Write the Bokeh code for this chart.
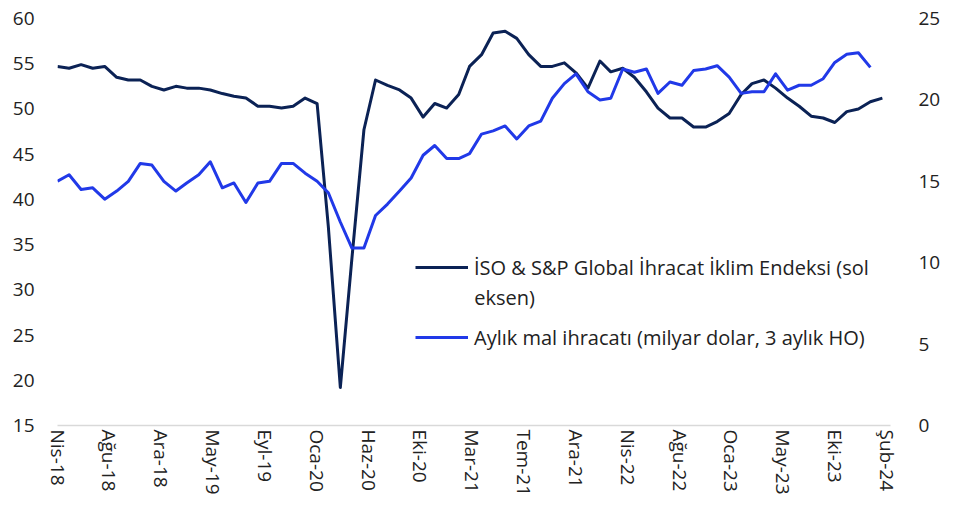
import pandas as pd
from bokeh.plotting import figure
from bokeh.models import (ColumnDataSource, Range1d, LinearAxis, FixedTicker,
                          Legend, LegendItem, Label)
from bokeh.embed import file_html
from bokeh.resources import INLINE

# ---------------- data ----------------
start_month = "2018-04-01"
n_months = 71

iso_index = [54.7, 54.5, 54.9, 54.5, 54.7, 53.5, 53.2, 53.2, 52.5, 52.1,
             52.5, 52.3, 52.3, 52.1, 51.7, 51.4, 51.2, 50.3, 50.3, 50.1,
             50.3, 51.2, 50.6, 37.0, 19.2, 33.5, 47.7, 53.2, 52.6, 52.1,
             51.2, 49.1, 50.6, 50.1, 51.6, 54.7, 56.0, 58.4, 58.6, 57.8,
             56.0, 54.7, 54.7, 55.1, 54.0, 52.3, 55.3, 54.1, 54.5, 53.5,
             51.9, 50.1, 49.0, 49.0, 48.0, 48.0, 48.6, 49.5, 51.6, 52.8,
             53.2, 52.3, 51.2, 50.3, 49.2, 49.0, 48.5, 49.7, 50.0, 50.8,
             51.2]

exports = [15.0, 15.4, 14.5, 14.6, 13.9, 14.4, 15.0, 16.1, 16.0, 15.0,
           14.4, 14.9, 15.4, 16.2, 14.6, 14.9, 13.7, 14.9, 15.0, 16.1,
           16.1, 15.5, 15.0, 14.3, 12.5, 10.9, 10.9, 12.9, 13.6, 14.4,
           15.2, 16.6, 17.2, 16.4, 16.4, 16.7, 17.9, 18.1, 18.4, 17.6,
           18.4, 18.7, 20.1, 21.0, 21.6, 20.5, 20.0, 20.1, 21.9, 21.7,
           21.9, 20.4, 21.1, 20.9, 21.8, 21.9, 22.1, 21.4, 20.4, 20.5,
           20.5, 21.6, 20.6, 20.9, 20.9, 21.3, 22.3, 22.8, 22.9, 22.0]

tick_labels = ["Nis-18", "Ağu-18", "Ara-18", "May-19", "Eyl-19", "Oca-20",
               "Haz-20", "Eki-20", "Mar-21", "Tem-21", "Ara-21", "Nis-22",
               "Ağu-22", "Oca-23", "May-23", "Eki-23", "Şub-24"]

label_iso = "İSO & S&P Global İhracat İklim Endeksi (sol"
label_iso_2 = "eksen)"
label_exp = "Aylık mal ihracatı (milyar dolar, 3 aylık HO)"

# ---------------- prep ----------------
dates = pd.date_range(start_month, periods=n_months, freq="MS")
days = [int(d) for d in (dates - dates[0]).days]

src_iso = ColumnDataSource(dict(x=days, y=iso_index))
src_exp = ColumnDataSource(dict(x=days[:len(exports)], y=exports))

FONT = "Open Sans"
TXT = "#222222"
DARK = "#0B2255"
BLUE = "#2139E8"
TICK_FS = "19px"
LEG_FS = "20px"

tick_step = 134
ticks = [k * tick_step for k in range(len(tick_labels))]

p = figure(width=948, height=509, output_backend="svg", toolbar_location=None,
           x_range=Range1d(0, 2153), y_range=Range1d(15, 60),
           min_border_left=57, min_border_right=58, min_border_top=18,
           min_border_bottom=84)
p.outline_line_color = None
p.grid.visible = False
p.background_fill_color = "white"
p.border_fill_color = "white"

p.extra_y_ranges = {"right": Range1d(0, 25)}

r1 = p.line("x", "y", source=src_iso, line_color=DARK, line_width=3,
            line_join="round")
r2 = p.line("x", "y", source=src_exp, line_color=BLUE, line_width=3,
            line_join="round", y_range_name="right")

# x axis
xa = p.xaxis[0]
xa.ticker = FixedTicker(ticks=ticks)
xa.major_label_overrides = {t: lab for t, lab in zip(ticks, tick_labels)}
xa.major_label_orientation = "vertical"
xa.axis_line_color = "#D9D9D9"
xa.axis_line_width = 1.5
xa.major_tick_line_color = None
xa.minor_tick_line_color = None
xa.major_tick_out = 0
xa.major_tick_in = 0
xa.major_label_standoff = 4
xa.major_label_text_font = FONT
xa.major_label_text_font_size = TICK_FS
xa.major_label_text_color = TXT

# left axis
ya = p.yaxis[0]
ya.ticker = FixedTicker(ticks=list(range(15, 61, 5)))
ya.axis_line_color = None
ya.major_tick_line_color = None
ya.minor_tick_line_color = None
ya.major_label_standoff = 17
ya.major_label_text_font = FONT
ya.major_label_text_font_size = TICK_FS
ya.major_label_text_color = TXT

# right axis
ra = LinearAxis(y_range_name="right", ticker=FixedTicker(ticks=list(range(0, 26, 5))))
ra.axis_line_color = None
ra.major_tick_line_color = None
ra.minor_tick_line_color = None
ra.major_label_standoff = 22
ra.major_label_text_font = FONT
ra.major_label_text_font_size = TICK_FS
ra.major_label_text_color = TXT
p.add_layout(ra, "right")

legend = Legend(items=[LegendItem(label=label_iso, renderers=[r1]),
                       LegendItem(label=label_exp, renderers=[r2])],
                location=(358, 73), orientation="vertical",
                border_line_color=None, background_fill_alpha=0,
                padding=0, margin=0, spacing=40,
                glyph_width=53, glyph_height=30, label_height=30,
                label_standoff=6, label_text_font=FONT,
                label_text_font_size=LEG_FS, label_text_color=TXT)
p.add_layout(legend, "center")

p.add_layout(Label(x=1077, y=29.2, text=label_iso_2, text_font=FONT,
                   text_font_size=LEG_FS, text_color=TXT,
                   text_baseline="middle", text_align="left"))

open("out.html", "w").write(file_html(p, INLINE))
